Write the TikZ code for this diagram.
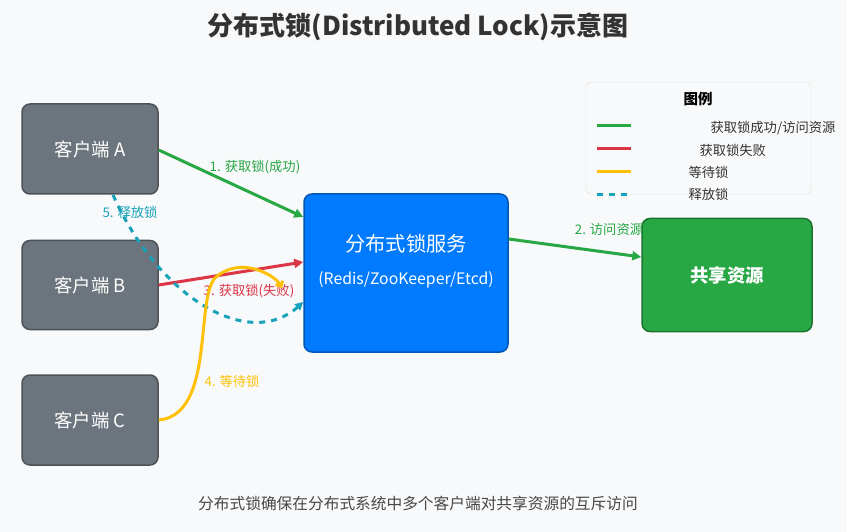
\documentclass[tikz,border=0pt]{standalone}
\usepackage{fontspec}
\setmainfont{Noto Sans CJK SC}
\usetikzlibrary{arrows.meta}
\definecolor{bg}{HTML}{F8F9FA}
\definecolor{cg}{HTML}{6C757D}
\definecolor{cb}{HTML}{007BFF}
\definecolor{cgr}{HTML}{28A745}
\definecolor{cr}{HTML}{DC3545}
\definecolor{cy}{HTML}{FFC107}
\definecolor{ct}{HTML}{17A2B8}
\definecolor{tx}{HTML}{333333}
\begin{document}
\begin{tikzpicture}[x=1pt,y=-1pt,
 box/.style={draw=#1!70!black,fill=#1,rounded corners=8pt,line width=1.5pt,text=white,font=\fontsize{18.4}{20}\selectfont,text depth=0pt},
 conn/.style={line width=3pt,-{Triangle[length=9pt,width=9pt]}},
 lab/.style={font=\fontsize{13.3}{15}\selectfont}]
\useasboundingbox (0,0) rectangle (847,532);
\fill[bg] (0,0) rectangle (847,532);
\node[font=\bfseries\fontsize{26}{30}\selectfont,text=tx] (title) at (418,27) {分布式锁(Distributed Lock)示意图};
\node[box=cg,minimum width=136pt,minimum height=90pt] (A) at (90,149) {客户端 A};
\node[box=cg,minimum width=136pt,minimum height=89pt] (B) at (90,285) {客户端 B};
\node[box=cg,minimum width=136pt,minimum height=90pt] (C) at (90,420) {客户端 C};
\node[box=cb,minimum width=204pt,minimum height=158pt] (S) at (406,273) {};
\node[text=white,font=\fontsize{20.3}{22}\selectfont] (s1) at (406,244) {分布式锁服务};
\node[text=white,font=\fontsize{15.8}{18}\selectfont] (s2) at (406,280) {(Redis/ZooKeeper/Etcd)};
\node[box=cgr,minimum width=170pt,minimum height=113pt,font=\bfseries\fontsize{18.4}{20}\selectfont] (R) at (727,275) {共享资源};
% connectors
\draw[conn,cgr] (A.east|-0,150) -- (S.west|-0,217) coordinate (e1);
\node[lab,text=cgr] (l1) at (255,167) {1. 获取锁(成功)};
\draw[conn,cr] (B.east) -- (S.west|-0,262);
\node[lab,text=cr] (l3) at (249,291) {3. 获取锁(失败)};
\draw[conn,cgr] (S.east|-0,239) -- (R.west|-0,257);
\node[lab,text=cgr] (l2) at (609,229) {2. 访问资源};
\coordinate (t0) at (113,195);
\draw[ct,line width=3pt,dash pattern=on 6pt off 6pt,-{Triangle[length=8pt,width=8pt]}] (t0) .. controls (160,300) and (250,350) .. (S.west|-0,302);
\node[lab,text=ct] (l5) at (130,212) {5. 释放锁};
\draw[cy,line width=3pt,-{Straight Barb[length=4pt,width=8pt]}] (C.east) .. controls (215,415) and (195,300) .. (215,278) .. controls (240,255) and (275,275) .. (282,288);
\node[lab,text=cy] (l4) at (232,381) {4. 等待锁};
% legend
\node[draw=black!12,fill=bg,rounded corners=5pt,minimum width=225pt,minimum height=112pt] (L) at (698.5,138) {};
\node[font=\bfseries\fontsize{14.5}{16}\selectfont] (lt) at (698,99) {图例};
\coordinate (g0) at (597,126); \coordinate (g1) at (631,126);
\draw[cgr,line width=3pt] (g0) -- (g1);
\coordinate (r0) at (597,149); \coordinate (r1) at (631,149);
\draw[cr,line width=3pt] (r0) -- (r1);
\coordinate (y0) at (597,172); \coordinate (y1) at (631,172);
\draw[cy,line width=3pt] (y0) -- (y1);
\coordinate (d0) at (597,195); \coordinate (d1) at (631,195);
\draw[ct,line width=3pt,dash pattern=on 6pt off 6pt] (d0) -- (d1);
\node[lab,anchor=west,text=tx] (lg1) at (707,128) {获取锁成功/访问资源};
\node[lab,anchor=west,text=tx] (lg2) at (696,150) {获取锁失败};
\node[lab,anchor=west,text=tx] (lg3) at (685,172) {等待锁};
\node[lab,anchor=west,text=tx] (lg4) at (685,194) {释放锁};
\node[font=\fontsize{15.7}{18}\selectfont,text=tx!90] (cap) at (418,504) {分布式锁确保在分布式系统中多个客户端对共享资源的互斥访问};
\end{tikzpicture}
\end{document}
